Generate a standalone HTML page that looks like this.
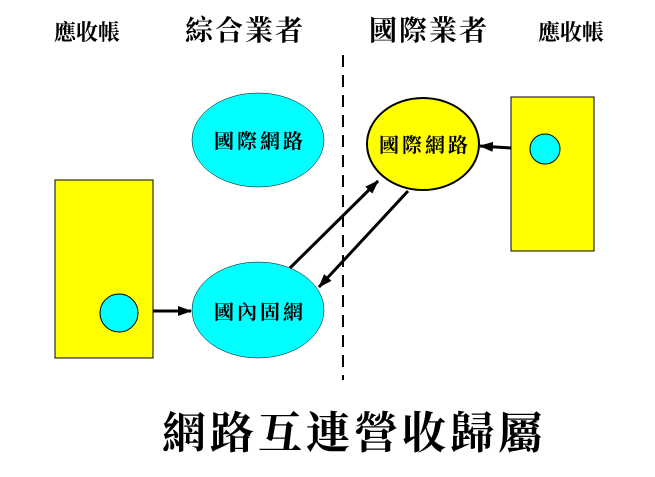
<!DOCTYPE html>
<html><head><meta charset="utf-8"><style>
body{margin:0;background:#fff;width:655px;height:472px;overflow:hidden}
svg text{font-family:"Liberation Serif","Noto Serif CJK SC","Noto Sans CJK TC",serif;font-weight:bold;fill:#000}
</style></head><body>
<svg width="655" height="472" viewBox="0 0 655 472" xmlns="http://www.w3.org/2000/svg">
<defs><marker id="b" markerWidth="14" markerHeight="10" refX="13" refY="5" orient="auto" markerUnits="userSpaceOnUse"><path d="M0,0L14,5L0,10z" fill="#000"/></marker></defs>
<text x="87" y="40" font-size="22" text-anchor="middle">應收帳</text>
<text x="245" y="40" font-size="28" text-anchor="middle" letter-spacing="2">綜合業者</text>
<text x="429" y="40" font-size="28" text-anchor="middle" letter-spacing="2">國際業者</text>
<text x="571" y="40" font-size="22" text-anchor="middle">應收帳</text>
<line x1="343" y1="55" x2="343" y2="380" stroke="#000" stroke-width="2" stroke-dasharray="12,8"/>
<rect x="55" y="180" width="98" height="178" fill="#ff0" stroke="#000" stroke-width="1"/>
<circle cx="119" cy="313" r="19" fill="#0ff" stroke="#000" stroke-width="1"/>
<rect x="511" y="97" width="83" height="154" fill="#ff0" stroke="#000" stroke-width="1"/>
<circle cx="545" cy="149" r="15" fill="#0ff" stroke="#000" stroke-width="1"/>
<ellipse cx="258" cy="140" rx="66" ry="47" fill="#0ff" stroke="#000" stroke-width="0.5"/>
<ellipse cx="258" cy="310" rx="66" ry="48" fill="#0ff" stroke="#000" stroke-width="0.5"/>
<ellipse cx="423" cy="144" rx="56" ry="46" fill="#ff0" stroke="#000" stroke-width="2"/>
<text x="260" y="148" font-size="20" text-anchor="middle" letter-spacing="3">國際網路</text>
<text x="260" y="319" font-size="20" text-anchor="middle" letter-spacing="3">國內固網</text>
<text x="425" y="152" font-size="20" text-anchor="middle" letter-spacing="3">國際網路</text>
<line x1="153" y1="311" x2="191" y2="311" stroke="#000" stroke-width="3" marker-end="url(#b)"/>
<line x1="511" y1="148" x2="480" y2="146" stroke="#000" stroke-width="3" marker-end="url(#b)"/>
<line x1="290" y1="268" x2="378" y2="181" stroke="#000" stroke-width="3" marker-end="url(#b)"/>
<line x1="408" y1="191" x2="319" y2="287" stroke="#000" stroke-width="3" marker-end="url(#b)"/>
<text x="354" y="448" font-size="44" text-anchor="middle" letter-spacing="4">網路互連營收歸屬</text>
</svg>
</body></html>
